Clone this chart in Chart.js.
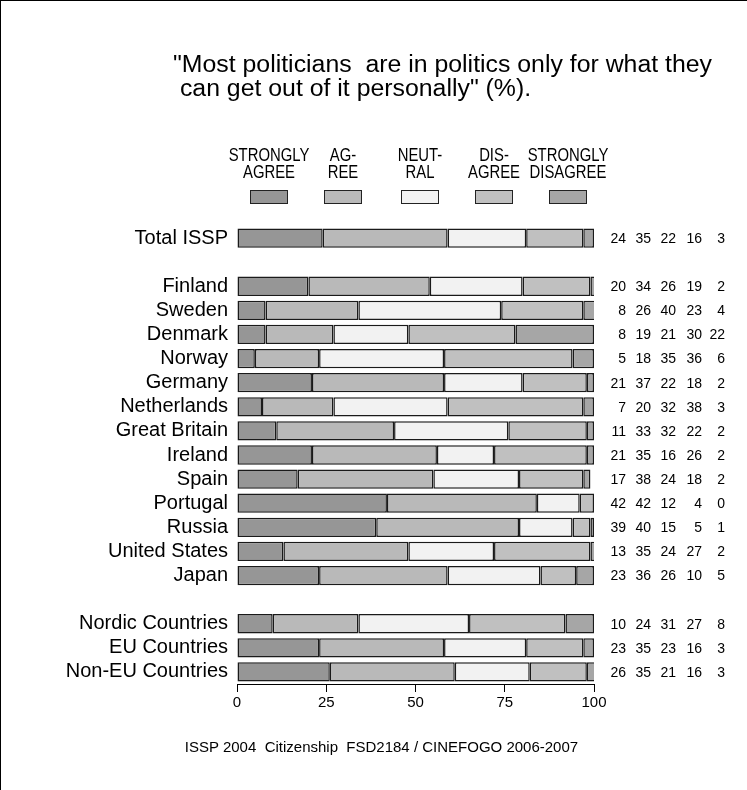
<!DOCTYPE html>
<html>
<head>
<meta charset="utf-8">
<script src="https://cdn.jsdelivr.net/npm/chart.js@4.4.1/dist/chart.umd.min.js"></script>
<style>
    body { margin: 0; background: #fff; }
    #wrap { position: relative; width: 747px; height: 790px; font-family: "Liberation Sans", Arial, sans-serif; }
    #frame { position: absolute; left: 0; top: 0; width: 746px; height: 789px; border-left: 1px solid #000; border-top: 1px solid #000; pointer-events: none; }
    #title { position: absolute; left: 173px; top: 52px; font-size: 23px; line-height: 24px; white-space: pre; color: #000; transform: scaleX(1.08); transform-origin: left top; }
    #footer { position: absolute; left: 8px; width: 747px; top: 738px; text-align: center; font-size: 15px; color: #000; }
    canvas { position: absolute; left: 0; top: 0; }
</style>
</head>
<body>
<div id="wrap">
    <canvas id="chart" width="747" height="790"></canvas>
    <div id="title">"Most politicians  are in politics only for what they
 can get out of it personally" (%).</div>
    <div id="footer">ISSP 2004&nbsp; Citizenship&nbsp; FSD2184 / CINEFOGO 2006-2007</div>
    <div id="frame"></div>
</div>
<script>
// Categories (empty strings are the spacer rows)
const categories = ['Total ISSP', '', 'Finland', 'Sweden', 'Denmark', 'Norway', 'Germany', 'Netherlands',
    'Great Britain', 'Ireland', 'Spain', 'Portugal', 'Russia', 'United States', 'Japan', '',
    'Nordic Countries', 'EU Countries', 'Non-EU Countries'];

const seriesNames = [['STRONGLY', 'AGREE'], ['AG-', 'REE'], ['NEUT-', 'RAL'], ['DIS-', 'AGREE'], ['STRONGLY', 'DISAGREE']];

const stronglyAgree    = [24, null, 20, 8, 8, 5, 21, 7, 11, 21, 17, 42, 39, 13, 23, null, 10, 23, 26];
const agree            = [35, null, 34, 26, 19, 18, 37, 20, 33, 35, 38, 42, 40, 35, 36, null, 24, 35, 35];
const neutral          = [22, null, 26, 40, 21, 35, 22, 32, 32, 16, 24, 12, 15, 24, 26, null, 31, 23, 21];
const disagree         = [16, null, 19, 23, 30, 36, 18, 38, 22, 26, 18, 4, 5, 27, 10, null, 27, 16, 16];
const stronglyDisagree = [3, null, 2, 4, 22, 6, 2, 3, 2, 2, 2, 0, 1, 2, 5, null, 8, 3, 3];

const xTicks = [0, 25, 50, 75, 100];

const colors = ['#969696', '#b9b9b9', '#f2f2f2', '#c0c0c0', '#a6a6a6'];
const FONT = '"Liberation Sans", Arial, sans-serif';

// right-hand number columns (right edges) and legend centres
const valueColumns = [626, 651, 676, 702, 725];
const legendCenters = [269, 343, 420, 494, 568];

// Values printed to the right of each bar
const sideValues = {
    id: 'sideValues',
    afterDatasetsDraw(chart) {
        const { ctx } = chart;
        const y = chart.scales.y;
        ctx.save();
        ctx.font = '14px ' + FONT;
        ctx.fillStyle = '#000';
        ctx.textAlign = 'right';
        ctx.textBaseline = 'middle';
        chart.data.datasets.forEach((ds, d) => {
            ds.data.forEach((v, i) => {
                if (v === null) return;
                ctx.fillText(String(v), valueColumns[d], y.getPixelForValue(i) + 1);
            });
        });
        ctx.restore();
    }
};

// Legend: two-line label above each swatch
const topLegend = {
    id: 'topLegend',
    afterDraw(chart) {
        const { ctx } = chart;
        ctx.save();
        chart.data.datasets.forEach((ds, d) => {
            const cx = legendCenters[d];
            ctx.save();
            ctx.translate(cx, 0);
            ctx.scale(0.85, 1);
            ctx.font = '17.5px ' + FONT;
            ctx.fillStyle = '#000';
            ctx.textAlign = 'center';
            ctx.textBaseline = 'middle';
            seriesNames[d].forEach((line, k) => ctx.fillText(line, 0, 156 + k * 17));
            ctx.restore();
            ctx.fillStyle = ds.backgroundColor;
            ctx.strokeStyle = '#222';
            ctx.lineWidth = 1;
            ctx.fillRect(cx - 19, 190.5, 38, 13);
            ctx.strokeRect(cx - 19 + 0.5, 190.5, 37, 13);
        });
        ctx.restore();
    }
};

const seriesData = [stronglyAgree, agree, neutral, disagree, stronglyDisagree];

new Chart(document.getElementById('chart'), {
    type: 'bar',
    data: {
        labels: categories,
        datasets: seriesData.map((data, i) => ({
            label: seriesNames[i].join(' '),
            data: data,
            backgroundColor: colors[i],
            borderColor: '#1a1a1a',
            borderWidth: 1.5,
            borderSkipped: false,
            barPercentage: 0.8,
            categoryPercentage: 1.0
        }))
    },
    options: {
        indexAxis: 'y',
        responsive: false,
        animation: false,
        devicePixelRatio: 1,
        layout: { padding: { top: 226, right: 153, left: 0, bottom: 0 } },
        plugins: {
            legend: { display: false },
            tooltip: { enabled: false }
        },
        scales: {
            x: {
                stacked: true,
                min: 0,
                max: 100,
                afterFit: (scale) => { scale.height = 106; },
                afterBuildTicks: (scale) => { scale.ticks = xTicks.map(v => ({ value: v })); },
                grid: { drawOnChartArea: false, drawTicks: true, tickLength: 8, color: '#000' },
                border: { display: true, color: '#000', width: 1 },
                ticks: { color: '#000', font: { family: FONT, size: 15 }, padding: 2 }
            },
            y: {
                stacked: true,
                afterFit: (scale) => { scale.width = 237; },
                grid: { display: false, drawTicks: false },
                border: { display: false },
                ticks: { color: '#000', font: { family: FONT, size: 20 }, padding: 9, autoSkip: false }
            }
        }
    },
    plugins: [sideValues, topLegend]
});
</script>
</body>
</html>
